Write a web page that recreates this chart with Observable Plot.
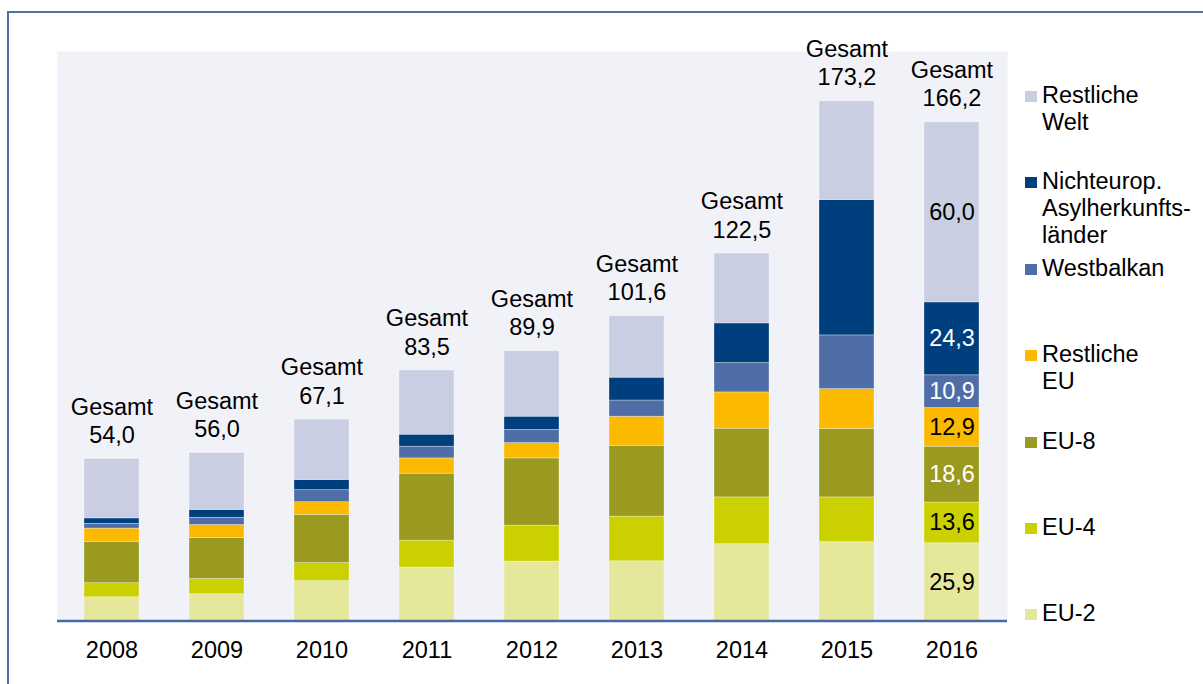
<!DOCTYPE html>
<html><head><meta charset="utf-8">
<script src="https://cdn.jsdelivr.net/npm/d3@7"></script>
<script src="https://cdn.jsdelivr.net/npm/@observablehq/plot@0.6"></script>
<style>
html,body{margin:0;padding:0;background:#fff;overflow:hidden;}
#wrap{position:relative;width:1203px;height:684px;overflow:hidden;font-family:'Liberation Sans',Arial,sans-serif;}
#border{position:absolute;left:7px;top:11px;width:1400px;height:900px;border:2.5px solid #4f6fa9;box-sizing:border-box;}
#chart{position:absolute;left:0;top:0;}
.leg{position:absolute;left:1042px;font-size:23.5px;line-height:27px;white-space:pre-line;color:#000;}
.sw{position:absolute;left:-17px;width:11.7px;height:11px;}
</style></head><body>
<div id="wrap"><div id="border"></div><div id="chart"></div><div id="legend"></div></div>
<script>
// ---- data ----
const years = ["2008","2009","2010","2011","2012","2013","2014","2015","2016"];
const totals = [54.0, 56.0, 67.1, 83.5, 89.9, 101.6, 122.5, 173.2, 166.2];
const eu2        = [7.9, 8.9, 13.3, 17.8, 19.8, 19.9, 25.6, 26.3, 25.9];
const eu4        = [4.7, 5.1, 6.0, 9.0, 12.0, 14.9, 15.6, 14.9, 13.6];
const eu8        = [13.8, 13.7, 16.1, 22.3, 22.4, 23.6, 22.9, 22.8, 18.6];
const restEU     = [4.4, 4.3, 4.2, 5.1, 5.1, 9.7, 12.1, 13.3, 12.9];
const westbalkan = [1.6, 2.4, 4.0, 3.9, 4.4, 5.4, 9.8, 17.9, 10.9];
const nichteurop = [1.8, 2.6, 3.4, 4.0, 4.4, 7.6, 13.2, 45.1, 24.3];
const restWelt   = [19.8, 19.0, 20.1, 21.4, 21.8, 20.5, 23.3, 32.9, 60.0];

const seriesNames = ["EU-2","EU-4","EU-8","Restliche EU","Westbalkan","Nichteurop. Asylherkunftsländer","Restliche Welt"];
const seriesValues = [eu2, eu4, eu8, restEU, westbalkan, nichteurop, restWelt];
const seriesColors = ["#e5e89b","#cbd100","#999a1f","#fbb900","#4f6ea8","#003f7e","#c9cee3"];
const labelColors  = ["black","black","white","black","white","white","black"];
const legendLabels = ["Restliche\nWelt","Nichteurop.\nAsylherkunfts-\nländer","Westbalkan","Restliche\nEU","EU-8","EU-4","EU-2"];
const legendSeries = ["Restliche Welt","Nichteurop. Asylherkunftsländer","Westbalkan","Restliche EU","EU-8","EU-4","EU-2"];
const labeledYear = "2016";

const fmt = v => v.toFixed(1).replace(".", ",");

// long table (bottom-to-top order)
const table = [];
years.forEach((yr, i) => {
  let cum = 0;
  seriesNames.forEach((s, k) => {
    const v = seriesValues[k][i];
    table.push({year: yr, series: s, value: v, mid: cum + v / 2, labelColor: labelColors[k]});
    cum += v;
  });
});
const totalRows = years.map((yr, i) => ({year: yr, total: totals[i]}));

const W = 1203, H = 684;
const mTop = 51, mBottom = 63.5, mLeft = 57, mRight = 196;
const yMax = (H - mTop - mBottom) / 3;

const chart = Plot.plot({
  width: W, height: H,
  marginTop: mTop, marginBottom: mBottom, marginLeft: mLeft, marginRight: mRight,
  style: {fontFamily: "'Liberation Sans', Arial, sans-serif", fontSize: "23.5px", color: "black", background: "transparent", overflow: "visible"},
  x: {domain: years, paddingInner: 0.474, paddingOuter: 0.237, label: null},
  y: {domain: [0, yMax], axis: null},
  color: {domain: seriesNames, range: seriesColors},
  marks: [
    Plot.frame({fill: "#f1f2f8", stroke: "none"}),
    Plot.barY(table, Plot.stackY({x: "year", y: "value", fill: "series", stroke: "white", strokeOpacity: 0.45, strokeWidth: 0.7})),
    Plot.ruleY([0], {stroke: "#4a6aa6", strokeWidth: 2.5}),
    Plot.axisX({tickSize: 0, tickPadding: 20, fontSize: 23.5, fill: "black", label: null}),
    Plot.text(totalRows, {x: "year", y: "total", text: d => `Gesamt\n${fmt(d.total)}`, lineAnchor: "bottom", lineHeight: 1.21, dy: -16, fontSize: 23.5, fill: "black"}),
    Plot.text(table.filter(d => d.year === labeledYear), {x: "year", y: "mid", text: d => fmt(d.value), fill: "labelColor", fontSize: 23.5})
  ]
});
document.getElementById("chart").appendChild(chart);

// legend (first-line baselines)
const legendBaselines = [103.3, 189.5, 276.4, 362.3, 449.2, 535.4, 621.2];
const leg = document.getElementById("legend");
legendLabels.forEach((lab, i) => {
  const d = document.createElement("div");
  d.className = "leg";
  d.style.top = (legendBaselines[i] - 21.6) + "px";
  d.textContent = lab;
  const sw = document.createElement("span");
  sw.className = "sw";
  sw.style.top = "9.1px";
  sw.style.background = seriesColors[seriesNames.indexOf(legendSeries[i])];
  d.appendChild(sw);
  leg.appendChild(d);
});
</script>
</body></html>
